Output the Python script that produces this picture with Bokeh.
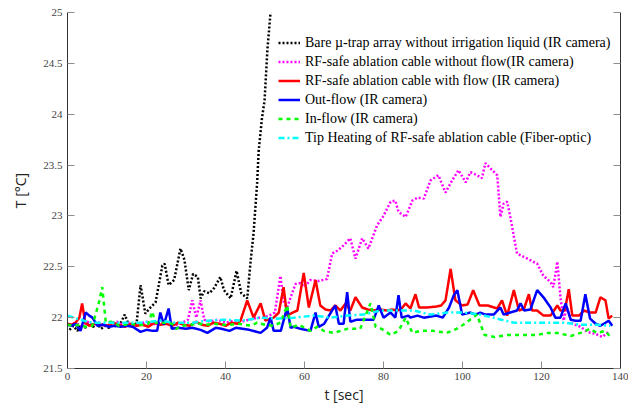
from bokeh.plotting import figure
from bokeh.models import (Legend, LegendItem, LinearAxis, FixedTicker, Range1d,
                          CustomJSTickFormatter)
from bokeh.embed import file_html
from bokeh.resources import INLINE

# ---------------- data ----------------
x_ticks = [0, 20, 40, 60, 80, 100, 120, 140]
y_ticks = [21.5, 22, 22.5, 23, 23.5, 24, 24.5, 25]

bare_t = [0.5, 1.5, 2.5, 3.5, 4.5, 5.5, 6.5, 7.5, 8.5, 9.5, 10.5, 11.5, 12.5, 13.5, 14.5, 15.5,
          16.5, 17.5, 18.5, 19.7, 21, 22.3, 24, 24.6, 25.6, 27, 28.6, 29.6, 30.7, 31.8, 33, 33.7,
          34.6, 35.9, 37.1, 38.7, 39.6, 41.3, 42.8, 44, 45.5, 46.3, 47.1, 48, 48.4, 49.2, 49.9,
          50.6, 51.4]
bare_T = [21.88, 21.92, 21.87, 21.93, 21.90, 21.95, 21.91, 21.94, 21.89, 21.92, 21.90, 21.93,
          21.91, 21.95, 22.03, 21.93, 21.91, 21.95, 22.32, 22.04, 22.10, 22.15, 22.51, 22.53,
          22.32, 22.37, 22.68, 22.57, 22.27, 22.43, 22.40, 22.19, 22.26, 22.24, 22.29, 22.40,
          22.27, 22.19, 22.46, 22.24, 22.19, 22.53, 22.83, 23.32, 23.64, 23.95, 24.14, 24.63,
          25.0]

noflow_t = [0.5, 2, 3.5, 5, 6.5, 8, 9.5, 11, 12.5, 14, 15.5, 17, 18.5, 20, 21.5, 23, 24.5, 26,
            27.5, 29, 30.5, 31.6, 32.6, 33.7, 34.6, 36, 38, 40, 42, 44, 46, 48, 49.5, 51, 52.5,
            53.9, 54.8, 55.6, 56.5, 57.7, 59, 60, 61.5, 63.5, 65.7, 67, 68.4, 69.9, 71.6, 72.9,
            74.6, 76.2, 78.4, 80, 81.8, 83, 83.8, 85.6, 87.3, 88.6, 90.2, 91.9, 93.9, 95.7, 97.4,
            99, 100.8, 102, 103.7, 104.9, 105.8, 107, 108.8, 109.6, 110.4, 111.3, 112.1, 113.8,
            116.4, 118.9, 120.5, 122.3, 123, 124, 124.8, 125.6, 126.4, 127.8, 129.9, 131.6,
            133.7, 135.4, 137]
noflow_T = [21.93, 21.95, 21.92, 21.96, 21.93, 21.95, 21.92, 21.94, 21.96, 21.93, 21.95, 21.92,
            21.94, 21.96, 21.93, 21.95, 21.94, 21.96, 21.93, 21.95, 21.98, 22.17, 22.00, 22.17,
            21.98, 21.96, 21.98, 21.95, 21.97, 21.96, 21.98, 22.00, 22.00, 22.02, 22.05, 22.41,
            22.14, 22.10, 22.20, 22.33, 22.34, 22.30, 22.37, 22.36, 22.38, 22.63, 22.66, 22.71,
            22.78, 22.58, 22.78, 22.68, 22.91, 23.00, 23.14, 23.15, 23.04, 22.99, 23.15, 23.18,
            23.17, 23.35, 23.40, 23.23, 23.35, 23.45, 23.33, 23.43, 23.40, 23.37, 23.52, 23.47,
            23.40, 22.99, 23.12, 23.14, 22.99, 22.63, 22.58, 22.53, 22.41, 22.35, 22.30, 22.55,
            22.20, 21.97, 22.10, 21.94, 21.91, 21.86, 21.84, 21.81, 21.86]

flow_t = [0, 1, 2, 3, 3.7, 4.5, 5.5, 7, 8.5, 10, 11.5, 13, 14.5, 16, 17.5, 19, 20.5, 22, 23.5,
          25, 26.5, 28, 29.5, 31, 32.5, 34, 35.5, 37, 38.5, 40, 41.5, 43, 43.8, 45.5, 47.1, 48.9,
          50.1, 52.2, 53.5, 54.7, 55.6, 57, 58.2, 59.8, 61.1, 62.8, 64, 65.3, 66.6, 67.8, 69.1,
          70.4, 71.6, 72.9, 74.6, 76, 77.5, 79, 80.9, 82.2, 83.5, 84.6, 85.6, 86.8, 88.1, 89, 91,
          93.4, 94.6, 95.7, 97, 98.2, 99.9, 101.3, 102.7, 104.3, 106.4, 108.8, 110, 111.3, 113,
          114.3, 115.6, 116.8, 117.6, 118.9, 120.5, 122.3, 124, 124.8, 125.9, 126.9, 127.8,
          129.5, 130.7, 132.3, 133.7, 134.9, 136.2, 137, 137.9]
flow_T = [21.94, 21.93, 21.95, 22.00, 22.14, 21.95, 21.92, 21.94, 21.93, 21.92, 21.95, 21.93,
          21.91, 21.94, 21.92, 21.93, 21.91, 21.95, 21.93, 21.94, 21.92, 21.95, 21.93, 21.92,
          21.96, 21.93, 21.92, 21.95, 21.94, 21.92, 21.95, 21.94, 21.97, 22.17, 22.00, 22.14,
          21.97, 22.00, 22.05, 22.30, 22.02, 22.05, 22.07, 22.44, 22.10, 22.37, 22.12, 22.08,
          22.07, 22.12, 22.07, 22.14, 22.07, 22.20, 22.10, 22.08, 22.07, 22.08, 22.07, 22.08,
          22.07, 22.09, 22.14, 22.09, 22.23, 22.10, 22.10, 22.11, 22.12, 22.17, 22.48, 22.17,
          22.12, 22.13, 22.27, 22.12, 22.12, 22.09, 22.17, 22.02, 22.27, 22.07, 22.09, 22.23,
          22.07, 22.07, 22.02, 22.02, 22.12, 22.07, 22.07, 22.28, 22.02, 22.02, 22.07, 22.05,
          22.05, 22.20, 22.17, 21.99, 22.02]

out_t = [0, 1, 2, 3.3, 4.6, 5.5, 6.3, 7.6, 9, 10.5, 12, 13.5, 15, 16.5, 18.5, 20, 21.5, 22.7,
         23.5, 24.4, 25.6, 26.4, 28, 30, 31.6, 33.7, 35.4, 37.5, 39, 41, 42.6, 44.3, 46, 48.9,
         50.5, 51.4, 52.2, 54, 55.6, 56.5, 57.3, 59, 61.5, 62.8, 63.6, 65, 66.2, 67.8, 68.7,
         69.9, 70.8, 71.6, 73.3, 75, 76.6, 77.5, 78.8, 80, 81.8, 83, 83.8, 84.6, 86.3, 86.8,
         88.6, 90.2, 93.4, 95, 96.6, 97.8, 98.7, 99.9, 102, 103.3, 104.5, 105.8, 107.9, 109.6,
         110.4, 112.1, 113.8, 114.7, 115.6, 117.2, 118.9, 120.5, 122.3, 123.5, 124.8, 126.1,
         127.4, 128.6, 129.9, 131.1, 132.3, 133.7, 134.9, 136.2, 137, 137.9]
out_T = [21.93, 21.92, 21.94, 21.87, 22.05, 22.02, 22.00, 21.92, 21.93, 21.91, 21.92, 21.91,
         21.92, 21.91, 21.86, 21.88, 21.87, 21.87, 22.05, 21.93, 22.09, 21.89, 21.90, 21.89,
         21.90, 21.88, 21.85, 21.90, 21.89, 21.87, 21.90, 21.89, 21.88, 21.85, 21.90, 22.00,
         21.87, 21.87, 22.10, 21.90, 21.91, 21.89, 21.87, 22.05, 21.91, 21.94, 22.02, 22.12,
         21.94, 21.94, 22.25, 21.96, 21.98, 21.98, 21.98, 21.98, 22.12, 22.00, 22.05, 22.00,
         22.22, 22.00, 22.02, 22.00, 22.02, 22.00, 22.02, 22.00, 22.10, 22.22, 22.27, 22.03,
         22.05, 22.03, 22.05, 22.03, 22.03, 22.10, 22.03, 22.05, 22.07, 22.14, 22.07, 22.08,
         22.27, 22.20, 22.10, 22.00, 22.00, 22.14, 21.98, 21.97, 21.97, 22.23, 21.99, 21.94,
         21.92, 21.95, 21.97, 21.92]

in_t = [0, 1.5, 3, 4.5, 6.3, 7.9, 8.8, 9.7, 11, 11.8, 13, 14.5, 16, 17.5, 19, 20.5, 21.4, 22.3,
        23.5, 25, 26.5, 27.5, 29, 31, 33, 35, 37, 39, 41, 43, 45, 46.5, 48, 50, 52, 53.9, 55.6,
        56.5, 58.6, 61.5, 63.2, 64.9, 67.4, 70.8, 74.1, 76.7, 78, 79.5, 81.8, 83.8, 85.6, 87.3,
        89.5, 92.6, 96, 98.5, 100.2, 101.9, 103.7, 104.5, 105.6, 108.1, 111.5, 114, 116.4, 119,
        121.5, 124, 127.4, 129.9, 132.3, 134, 136.2, 137.4]
in_T = [21.93, 21.92, 21.93, 21.91, 21.92, 22.14, 22.30, 21.95, 21.96, 21.95, 21.92, 21.93,
        21.94, 21.93, 21.93, 21.94, 22.06, 21.95, 21.95, 21.95, 21.94, 21.89, 21.92, 21.93,
        21.94, 21.93, 21.94, 21.93, 21.93, 21.94, 21.93, 21.92, 21.95, 21.93, 21.92, 21.95,
        22.12, 21.90, 21.93, 21.87, 21.91, 21.87, 21.85, 21.89, 21.89, 22.14, 21.91, 21.89,
        21.83, 21.87, 22.00, 21.85, 21.87, 21.87, 21.85, 21.89, 21.93, 21.98, 22.03, 21.94,
        21.83, 21.81, 21.83, 21.83, 21.83, 21.83, 21.85, 21.85, 21.82, 21.85, 21.89, 21.85,
        21.87, 21.81]

tip_t = [0, 1.5, 3.3, 5, 6.5, 8.5, 10.5, 12.5, 15, 18.5, 21, 23.5, 27, 31.6, 35.5, 39.6, 44,
         48.9, 53, 57.3, 62.3, 66.5, 70.8, 75, 79.2, 83.5, 87.7, 91.9, 96.1, 100.3, 104.5,
         108.8, 113, 117.2, 121.5, 125.7, 129.9, 134.1, 137.4]
tip_T = [22.02, 22.00, 21.98, 21.96, 21.95, 21.95, 21.95, 21.95, 21.95, 21.95, 21.96, 21.97,
         21.95, 21.95, 21.97, 21.98, 21.97, 22.00, 21.99, 22.00, 22.02, 22.00, 22.02, 22.03,
         22.07, 22.07, 22.07, 22.03, 22.05, 22.05, 22.03, 21.99, 21.95, 21.95, 21.95, 21.95,
         21.93, 21.93, 21.92]

labels = ["Bare \u00b5-trap array without irrigation liquid (IR camera)",
          "RF-safe ablation cable without flow(IR camera)",
          "RF-safe ablation cable with flow (IR camera)",
          "Out-flow (IR camera)",
          "In-flow (IR camera)",
          "Tip Heating of RF-safe ablation cable (Fiber-optic)"]

# ---------------- figure ----------------
p = figure(width=628, height=408, output_backend="svg", toolbar_location=None,
           x_range=Range1d(0, 140), y_range=Range1d(21.5, 25),
           min_border_left=67, min_border_right=8, min_border_top=12, min_border_bottom=40)
p.outline_line_alpha = 0
p.xgrid.visible = False
p.ygrid.visible = False

tick_font = "Liberation Serif"
for ax in (p.xaxis[0], p.yaxis[0]):
    ax.axis_line_color = "#333333"
    ax.major_tick_line_color = "#8c8c8c"
    ax.major_tick_in = 7
    ax.major_tick_out = 0
    ax.minor_tick_line_color = None
    ax.major_label_text_font = tick_font
    ax.major_label_text_font_size = "11px"
    ax.major_label_text_color = "#444444"
    ax.axis_label_text_font = "Open Sans"
    ax.axis_label_text_font_size = "14px"
    ax.axis_label_text_font_style = "normal"
    ax.axis_label_text_color = "#222222"

p.xaxis.ticker = FixedTicker(ticks=x_ticks)
p.yaxis.ticker = FixedTicker(ticks=y_ticks)
p.yaxis.formatter = CustomJSTickFormatter(code="return String(tick);")
p.xaxis.axis_label = "t [sec]"
p.yaxis.axis_label = "T [\u00b0C]"
p.xaxis.major_label_standoff = 4
p.xaxis.axis_label_standoff = 2
p.yaxis.major_label_standoff = 5
p.yaxis.axis_label_standoff = 10

right = LinearAxis(ticker=FixedTicker(ticks=y_ticks),
                   formatter=CustomJSTickFormatter(code="return '';"),
                   axis_line_color="#333333", major_tick_line_color="#8c8c8c",
                   major_tick_in=7, major_tick_out=0, minor_tick_line_color=None,
                   major_label_standoff=0)
p.add_layout(right, "right")

lw = 2.5
r1 = p.line(bare_t, bare_T, line_color="black", line_width=lw, line_dash="2 2")
r2 = p.line(noflow_t, noflow_T, line_color="#ff00ff", line_width=lw, line_dash="2 2")
r3 = p.line(flow_t, flow_T, line_color="red", line_width=lw)
r4 = p.line(out_t, out_T, line_color="blue", line_width=lw)
r5 = p.line(in_t, in_T, line_color="#00ff00", line_width=lw, line_dash="4 4")
r6 = p.line(tip_t, tip_T, line_color="cyan", line_width=lw, line_dash="6 3 2 3")

legend = Legend(items=[LegendItem(label=l, renderers=[r]) for l, r in
                       zip(labels, [r1, r2, r3, r4, r5, r6])],
                location=(211, 221), padding=0, margin=0, spacing=0,
                label_height=19, glyph_height=19, glyph_width=22, label_standoff=5,
                label_text_font="Liberation Serif", label_text_font_size="14px",
                label_text_color="black", border_line_alpha=0, background_fill_alpha=0)
p.add_layout(legend)

open("out.html", "w").write(file_html(p, INLINE))
